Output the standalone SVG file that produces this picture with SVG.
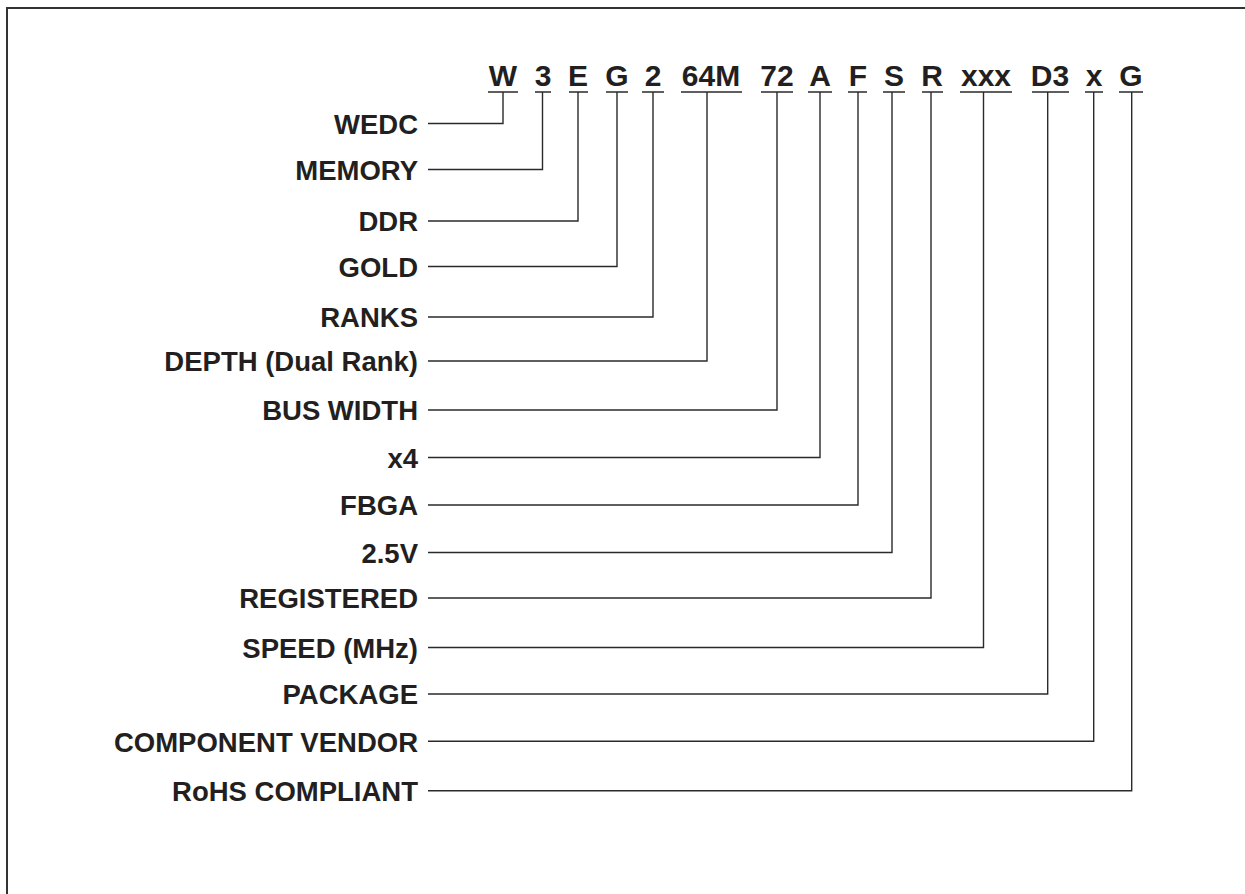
<svg xmlns="http://www.w3.org/2000/svg" width="1245" height="894" viewBox="0 0 1245 894">
<style>
.h{font-family:"Liberation Sans",Arial,sans-serif;font-weight:bold;font-size:30px;fill:#231f20;text-anchor:middle}
.l{font-family:"Liberation Sans",Arial,sans-serif;font-weight:bold;font-size:27.5px;fill:#231f20;text-anchor:end}
.c{fill:none;stroke:#2a2a2a;stroke-width:1.4}
.b{fill:none;stroke:#333;stroke-width:2}
</style>
<rect width="1245" height="894" fill="#fff"/>
<path class="b" d="M7,894 V8 H1245"/>
<g id="code">
<text class="h" x="503" y="86">W</text>
<text class="h" x="543" y="86">3</text>
<text class="h" x="578" y="86">E</text>
<text class="h" x="617" y="86">G</text>
<text class="h" x="653" y="86">2</text>
<text class="h" x="711" y="86">64M</text>
<text class="h" x="777" y="86">72</text>
<text class="h" x="820" y="86">A</text>
<text class="h" x="858" y="86">F</text>
<text class="h" x="894" y="86">S</text>
<text class="h" x="932" y="86">R</text>
<text class="h" x="986" y="86">xxx</text>
<text class="h" x="1050" y="86">D3</text>
<text class="h" x="1094" y="86">x</text>
<text class="h" x="1131" y="86">G</text>
</g>
<g id="underlines">
<path class="c" d="M488,92H518 M535,92H551 M569,92H588 M606,92H628 M642,92H664 M681,92H742 M761,92H793 M808,92H832 M848,92H867 M883,92H905 M922,92H943 M960,92H1012 M1032,92H1069 M1085,92H1103 M1119,92H1143"/>
</g>
<g id="labels">
<g id="n1"><text class="l" x="418" y="133.5">WEDC</text></g>
<g id="n2"><text class="l" x="418" y="179.5">MEMORY</text></g>
<g id="n3"><text class="l" x="418" y="231">DDR</text></g>
<g id="n4"><text class="l" x="418" y="276.5">GOLD</text></g>
<g id="n5"><text class="l" x="418" y="327">RANKS</text></g>
<g id="n6"><text class="l" x="418" y="371">DEPTH (Dual Rank)</text></g>
<g id="n7"><text class="l" x="418" y="420">BUS WIDTH</text></g>
<g id="n8"><text class="l" x="418" y="467.5">x4</text></g>
<g id="n9"><text class="l" x="418" y="515">FBGA</text></g>
<g id="n10"><text class="l" x="418" y="562.5">2.5V</text></g>
<g id="n11"><text class="l" x="418" y="608">REGISTERED</text></g>
<g id="n12"><text class="l" x="418" y="657.5">SPEED (MHz)</text></g>
<g id="n13"><text class="l" x="418" y="704">PACKAGE</text></g>
<g id="n14"><text class="l" x="418" y="751.5">COMPONENT VENDOR</text></g>
<g id="n15"><text class="l" x="418" y="801">RoHS COMPLIANT</text></g>
</g>
<g id="connectors">
<path class="c" d="M428,123.5H503V92"/>
<path class="c" d="M428,169.5H542.5V92"/>
<path class="c" d="M428,221H578V92"/>
<path class="c" d="M428,266.5H617V92"/>
<path class="c" d="M428,317H653V92"/>
<path class="c" d="M428,361H707V92"/>
<path class="c" d="M428,410H777V92"/>
<path class="c" d="M428,457.5H820V92"/>
<path class="c" d="M428,505H858V92"/>
<path class="c" d="M428,552.5H892V92"/>
<path class="c" d="M428,598H931V92"/>
<path class="c" d="M428,647.5H983.5V92"/>
<path class="c" d="M428,694H1047.7V92"/>
<path class="c" d="M428,741.3H1093.7V92"/>
<path class="c" d="M428,790.7H1131.7V92"/>
</g>
</svg>
